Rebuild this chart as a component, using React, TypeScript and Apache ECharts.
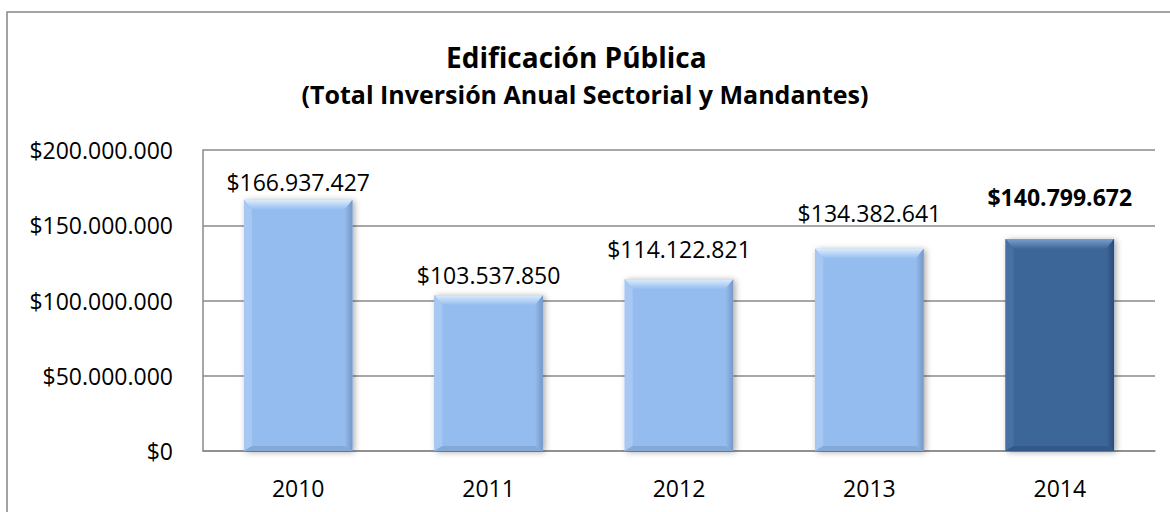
import React, { useEffect, useRef } from "react";
import * as echarts from "echarts";

const categories = ["2010", "2011", "2012", "2013", "2014"];
const values = [166937427, 103537850, 114122821, 134382641, 140799672];
const yTicks = [0, 50000000, 100000000, 150000000, 200000000];
const titleText = "Edificación Pública";
const subtitleText = "(Total Inversión Anual Sectorial y Mandantes)";
const highlightIndex = 4;
const labelLift = [18, 20, 30, 36, 42];

const FONT = "'Open Sans', 'DejaVu Sans', sans-serif";

function fmt(v: number): string {
  const s = Math.round(v).toString().replace(/\B(?=(\d{3})+(?!\d))/g, ".");
  return "$" + s;
}

const light = { base: "#95BCEF", top: "#DCEDFD", left: "#A7C8F3", right: "#7598C6", bottom: "#86A8D4" };
const dark = { base: "#3D6698", top: "#7A9ECB", left: "#4871A3", right: "#2A4C78", bottom: "#34588A" };

export default function App() {
  const ref = useRef<HTMLDivElement>(null);
  useEffect(() => {
    if (!ref.current) return;
    const chart = echarts.init(ref.current, null, { renderer: "svg" });
    const option: any = {
      animation: false,
      backgroundColor: "#ffffff",
      textStyle: { fontFamily: FONT },
      title: [
        {
          text: titleText,
          left: 441,
          top: 38,
          textStyle: { fontFamily: FONT, fontSize: 28, fontWeight: "bold", color: "#000" },
        },
        {
          text: subtitleText,
          left: "center",
          top: 76,
          textStyle: { fontFamily: FONT, fontSize: 25, fontWeight: "bold", color: "#000" },
        },
      ],
      graphic: [
        {
          type: "rect",
          shape: { x: 7, y: 12, width: 1300, height: 700 },
          style: { fill: "none", stroke: "#878787", lineWidth: 1.5 },
          silent: true,
          z: -1,
        },
      ],
      grid: { left: 203, right: 15, top: 150, bottom: 61, containLabel: false },
      xAxis: {
        type: "category",
        data: categories,
        axisLine: { show: true, lineStyle: { color: "#8A8A8A", width: 1.5 } },
        axisTick: { show: false },
        axisLabel: { color: "#000", fontSize: 23, fontFamily: FONT, margin: 25 },
        splitLine: { show: false },
      },
      yAxis: {
        type: "value",
        min: yTicks[0],
        max: yTicks[yTicks.length - 1],
        interval: yTicks[1] - yTicks[0],
        axisLine: { show: true, lineStyle: { color: "#8A8A8A", width: 1.5 } },
        axisTick: { show: false },
        axisLabel: { color: "#000", fontSize: 23, fontFamily: FONT, margin: 30, formatter: (v: number) => fmt(v) },
        splitLine: { show: true, lineStyle: { color: "#8A8A8A", width: 1.5 } },
      },
      series: [
        {
          type: "custom",
          encode: { x: 0, y: 1 },
          data: values.map((v, i) => [i, v]),
          clip: false,
          renderItem: (params: any, api: any) => {
            const idx = api.value(0);
            const v = api.value(1);
            const topPt = api.coord([idx, v]);
            const basePt = api.coord([idx, 0]);
            const w = api.size([1, 0])[0] * 0.57;
            const x0 = topPt[0] - w / 2;
            const x1 = topPt[0] + w / 2;
            const y0 = topPt[1];
            const y1 = basePt[1];
            const isHi = params.dataIndex === highlightIndex;
            const c = isHi ? dark : light;
            const bt = 10;
            const bs = 8;
            const bb = 5;
            return {
              type: "group",
              children: [
                {
                  type: "rect",
                  shape: { x: x0, y: y0, width: w, height: y1 - y0 },
                  style: {
                    fill: c.base,
                    shadowBlur: 6,
                    shadowColor: "rgba(0,0,0,0.35)",
                    shadowOffsetX: 2,
                    shadowOffsetY: 1,
                  },
                },
                {
                  type: "polygon",
                  shape: { points: [[x0, y0], [x1, y0], [x1 - bs, y0 + bt], [x0 + bs, y0 + bt]] },
                  style: {
                    fill: new echarts.graphic.LinearGradient(0, 0, 0, 1, [
                      { offset: 0, color: c.top },
                      { offset: 1, color: c.base },
                    ]),
                  },
                },
                {
                  type: "polygon",
                  shape: { points: [[x0, y0], [x0 + bs, y0 + bt], [x0 + bs, y1 - bb], [x0, y1]] },
                  style: { fill: c.left },
                },
                {
                  type: "polygon",
                  shape: { points: [[x1, y0], [x1 - bs, y0 + bt], [x1 - bs, y1 - bb], [x1, y1]] },
                  style: {
                    fill: new echarts.graphic.LinearGradient(0, 0, 1, 0, [
                      { offset: 0, color: c.base },
                      { offset: 1, color: c.right },
                    ]),
                  },
                },
                {
                  type: "polygon",
                  shape: { points: [[x0, y1], [x0 + bs, y1 - bb], [x1 - bs, y1 - bb], [x1, y1]] },
                  style: { fill: c.bottom },
                },
                {
                  type: "text",
                  style: {
                    text: fmt(v),
                    x: topPt[0],
                    y: y0 - labelLift[params.dataIndex],
                    align: "center",
                    verticalAlign: "middle",
                    fill: "#000",
                    font: (isHi ? "bold " : "") + "23px " + FONT,
                  },
                },
              ],
            };
          },
        },
      ],
    };
    chart.setOption(option);
    return () => chart.dispose();
  }, []);
  return (
    <div
      ref={ref}
      style={{ position: "absolute", left: 0, top: 0, width: 1170, height: 512 }}
    />
  );
}
